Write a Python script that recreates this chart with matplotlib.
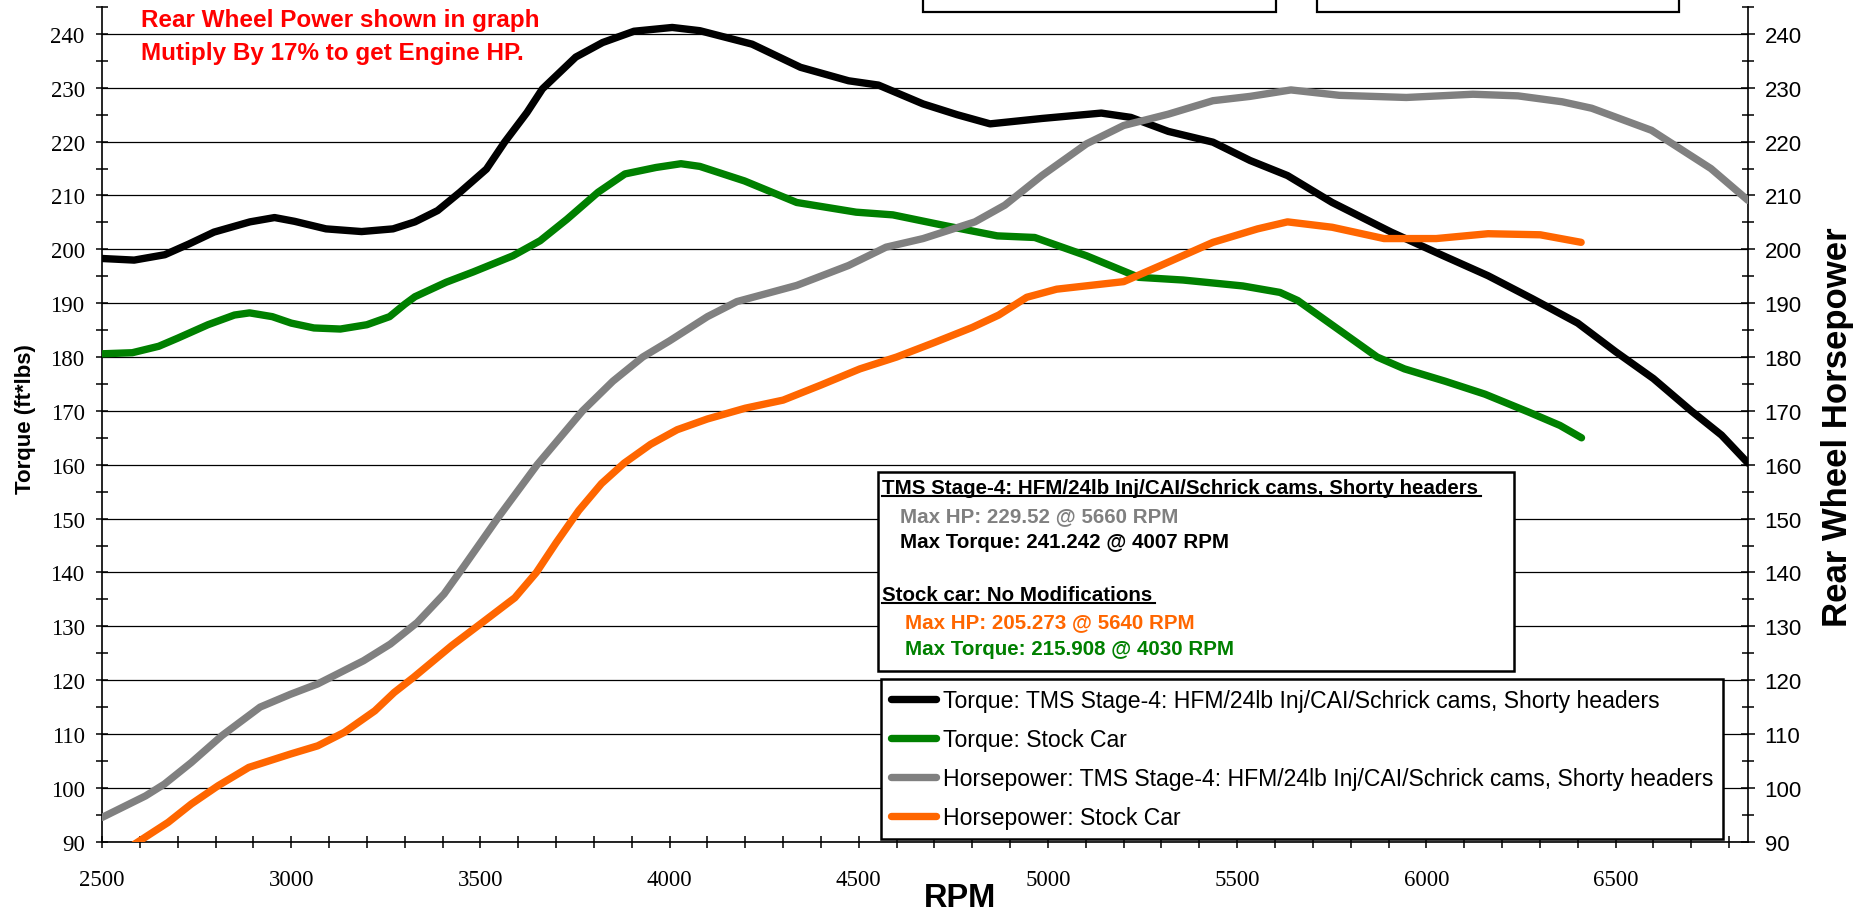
import matplotlib
matplotlib.use("Agg")
import matplotlib.pyplot as plt
from matplotlib.patches import Rectangle
from matplotlib.lines import Line2D
from matplotlib.ticker import MultipleLocator

W, H = 1866, 912

# ---------------- data ----------------
tq_tms_rpm = [2500, 2585, 2666, 2730, 2796, 2891, 2956, 3009, 3092, 3186, 3269, 3327, 3387, 3446,
              3516, 3564, 3623, 3664, 3752, 3823, 3906, 4007, 4080, 4218, 4346, 4473, 4552, 4670,
              4760, 4847, 4984, 5141, 5219, 5318, 5436, 5534, 5633, 5751, 5907, 6045, 6163, 6281,
              6400, 6500, 6600, 6700, 6780, 6850]
tq_tms = [198.3, 198.0, 199.0, 201.0, 203.2, 205.1, 205.9, 205.2, 203.8, 203.3, 203.8, 205.1, 207.2,
          210.6, 214.9, 219.9, 225.4, 229.8, 235.7, 238.4, 240.5, 241.2, 240.6, 238.1, 233.8, 231.3,
          230.5, 227.0, 225.0, 223.3, 224.3, 225.3, 224.5, 221.9, 219.9, 216.5, 213.7, 208.7, 203.2,
          198.8, 195.1, 190.8, 186.3, 181.0, 176.0, 170.0, 165.5, 160.3]

tq_stock_rpm = [2500, 2580, 2650, 2700, 2780, 2850, 2890, 2950, 3000, 3060, 3130, 3200, 3260, 3300,
                3327, 3410, 3481, 3586, 3658, 3729, 3811, 3882, 3964, 4030, 4080, 4198, 4336, 4493,
                4590, 4728, 4866, 4965, 5102, 5240, 5357, 5515, 5613, 5660, 5720, 5800, 5870, 5942,
                6050, 6155, 6273, 6353, 6410]
tq_stock = [180.6, 180.8, 182.0, 183.5, 186.0, 187.8, 188.2, 187.5, 186.3, 185.4, 185.2, 186.0, 187.5,
            189.8, 191.2, 193.9, 195.8, 198.8, 201.6, 205.6, 210.6, 214.0, 215.2, 215.9, 215.4, 212.7,
            208.7, 206.9, 206.4, 204.4, 202.5, 202.2, 198.8, 194.8, 194.3, 193.2, 192.0, 190.5, 187.5,
            183.5, 180.0, 177.8, 175.5, 173.1, 169.7, 167.3, 165.0]

hp_tms_rpm = [2500, 2615, 2665, 2736, 2817, 2918, 2999, 3070, 3191, 3262, 3333, 3404, 3455, 3550,
              3650, 3770, 3850, 3929, 4000, 4100, 4178, 4336, 4473, 4572, 4670, 4807, 4886, 4984,
              5102, 5200, 5318, 5436, 5534, 5642, 5770, 5947, 6123, 6242, 6359, 6437, 6595, 6752, 6850]
hp_tms = [94.5, 98.5, 100.7, 104.7, 109.7, 115.0, 117.4, 119.3, 123.6, 126.7, 130.7, 136.0, 141.0,
          150.5, 160.0, 170.0, 175.5, 180.0, 183.0, 187.5, 190.3, 193.3, 197.0, 200.4, 202.0, 205.1,
          208.2, 213.7, 219.6, 223.0, 225.1, 227.6, 228.4, 229.6, 228.6, 228.2, 228.8, 228.5, 227.4,
          226.2, 222.1, 215.0, 209.1]

hp_stock_rpm = [2585, 2675, 2736, 2807, 2888, 2999, 3070, 3140, 3221, 3272, 3323, 3424, 3505, 3591,
                3648, 3700, 3760, 3820, 3880, 3950, 4020, 4100, 4200, 4300, 4400, 4503, 4600, 4700,
                4800, 4870, 4944, 5023, 5200, 5298, 5436, 5554, 5633, 5751, 5888, 6026, 6163, 6301,
                6409]
hp_stock = [89.5, 93.6, 97.0, 100.4, 103.8, 106.3, 107.8, 110.3, 114.3, 117.7, 120.5, 126.4, 130.7,
            135.3, 140.0, 145.5, 151.5, 156.5, 160.3, 163.8, 166.5, 168.5, 170.5, 172.0, 174.8, 177.8,
            180.0, 182.7, 185.5, 187.8, 191.1, 192.6, 194.0, 197.0, 201.3, 203.8, 205.1, 204.1, 202.0,
            202.0, 202.9, 202.7, 201.3]

series_labels = ["Torque: TMS Stage-4: HFM/24lb Inj/CAI/Schrick cams, Shorty headers",
                 "Torque: Stock Car",
                 "Horsepower: TMS Stage-4: HFM/24lb Inj/CAI/Schrick cams, Shorty headers",
                 "Horsepower: Stock Car"]
series_colors = ["#000000", "#008000", "#808080", "#FF6600"]

x_ticks = [2500, 3000, 3500, 4000, 4500, 5000, 5500, 6000, 6500]

SERIF = "Liberation Serif"
SANS = "Liberation Sans"

# ---------------- figure ----------------
def fx(X):
    return X / W

def fy(Y):
    return 1 - Y / H

fig = plt.figure(figsize=(W / 100, H / 100), dpi=100)
ax = fig.add_axes([fx(102), fy(842.7), (1748 - 102) / W, (842.7 - 8.0) / H])
ax2 = ax.twinx()

for a in (ax, ax2):
    a.set_xlim(2500, 6850)
    a.set_ylim(90, 245)
    a.set_facecolor("none")
ax.set_facecolor("white")

LW = 5.3
ax.plot(tq_tms_rpm, tq_tms, color=series_colors[0], lw=LW, solid_capstyle="round",
        solid_joinstyle="round", zorder=3)
ax.plot(tq_stock_rpm, tq_stock, color=series_colors[1], lw=LW, solid_capstyle="round",
        solid_joinstyle="round", zorder=3)
ax2.plot(hp_tms_rpm, hp_tms, color=series_colors[2], lw=LW, solid_capstyle="round",
         solid_joinstyle="round", zorder=3)
ax2.plot(hp_stock_rpm, hp_stock, color=series_colors[3], lw=LW, solid_capstyle="round",
         solid_joinstyle="round", zorder=3)

# grid
ax.yaxis.set_major_locator(MultipleLocator(10))
ax.yaxis.set_minor_locator(MultipleLocator(5))
ax2.yaxis.set_major_locator(MultipleLocator(10))
ax2.yaxis.set_minor_locator(MultipleLocator(5))
ax.set_xticks(x_ticks)
ax.xaxis.set_minor_locator(MultipleLocator(100))
ax.yaxis.grid(True, which="major", color="black", lw=0.9, zorder=1)
ax.set_axisbelow(True)

# spines
for s in ("top", "right"):
    ax.spines[s].set_visible(False)
for s in ("top", "left", "bottom"):
    ax2.spines[s].set_visible(False)
ax.spines["left"].set_linewidth(1.2)
ax.spines["bottom"].set_linewidth(1.2)
ax2.spines["right"].set_linewidth(1.2)

ax.tick_params(axis="y", which="major", direction="inout", length=9, width=1.1, pad=8,
               labelsize=16.5, labelfontfamily=SERIF)
ax.tick_params(axis="y", which="minor", direction="inout", length=8, width=1.1)
ax.tick_params(axis="x", which="major", direction="inout", length=9, width=1.1, pad=15,
               labelsize=16.5, labelfontfamily=SERIF)
ax.tick_params(axis="x", which="minor", direction="inout", length=8, width=1.1)
ax2.tick_params(axis="y", which="major", direction="inout", length=10, width=1.1, pad=7,
                labelsize=16, labelfontfamily=SANS)
ax2.tick_params(axis="y", which="minor", direction="inout", length=8, width=1.1)

# axis titles
fig.text(fx(26), fy(419), "Torque (ft*lbs)", rotation=90, ha="center", va="center",
         fontsize=16, fontweight="bold", family=SANS)
fig.text(fx(1838), fy(427), "Rear Wheel Horsepower", rotation=90, ha="center", va="center",
         fontsize=25, fontweight="bold", family=SANS)
fig.text(fx(960), fy(907), "RPM", ha="center", va="baseline",
         fontsize=23.5, fontweight="bold", family=SANS)

# red note
fig.text(fx(140.6), fy(27.3), "Rear Wheel Power shown in graph", color="#FF0000",
         fontsize=17.5, fontweight="bold", family=SANS, va="baseline")
fig.text(fx(140.6), fy(60), "Mutiply By 17% to get Engine HP.", color="#FF0000",
         fontsize=17.5, fontweight="bold", family=SANS, va="baseline")

# empty boxes at the top
for x0, x1 in ((923, 1276), (1317, 1679)):
    fig.add_artist(Rectangle((fx(x0), fy(13)), (x1 - x0) / W, 0.1, transform=fig.transFigure,
                             facecolor="white", edgecolor="black", lw=1.6, clip_on=False,
                             zorder=5))

# info box
fig.add_artist(Rectangle((fx(878), fy(671.7)), (1514 - 878) / W, (671.7 - 473.3) / H,
                         transform=fig.transFigure, facecolor="white", edgecolor="black",
                         lw=1.8, zorder=5))
info_lines = [
    (882, 494, "TMS Stage-4: HFM/24lb Inj/CAI/Schrick cams, Shorty headers", "black", True),
    (900, 521.7, "Max HP: 229.52 @ 5660 RPM", "#808080", False),
    (900, 548.3, "Max Torque: 241.242 @ 4007 RPM", "black", False),
    (882, 600.7, "Stock car: No Modifications", "black", True),
    (904.6, 628.3, "Max HP: 205.273 @ 5640 RPM", "#FF6600", False),
    (904.6, 655, "Max Torque: 215.908 @ 4030 RPM", "#008000", False),
]
renderer = fig.canvas.get_renderer()
for X, Y, s, c, ul in info_lines:
    t = fig.text(fx(X), fy(Y), s, color=c, fontsize=14.8, fontweight="bold", family=SANS,
                 va="baseline", zorder=6)
    if ul:
        bb = t.get_window_extent(renderer)
        fig.add_artist(Line2D([bb.x0 / W, (bb.x1 + 3) / W], [fy(Y + 3), fy(Y + 3)],
                              transform=fig.transFigure, color="black", lw=1.5, zorder=6))

# legend
handles = [Line2D([], [], color=c, lw=LW, solid_capstyle="round") for c in series_colors]
leg = fig.legend(handles, series_labels, loc="upper left",
                 bbox_to_anchor=(fx(881), fy(840.7), (1722.5 - 881) / W, (840.7 - 680) / H),
                 mode="expand", borderaxespad=0, prop={"family": SANS, "size": 16.6},
                 handlelength=1.95, handletextpad=0.3, labelspacing=0.7, borderpad=0.42,
                 fancybox=False, framealpha=1, edgecolor="black")
leg.get_frame().set_linewidth(1.8)
leg.set_zorder(7)

fig.savefig("out.png", dpi=100)
